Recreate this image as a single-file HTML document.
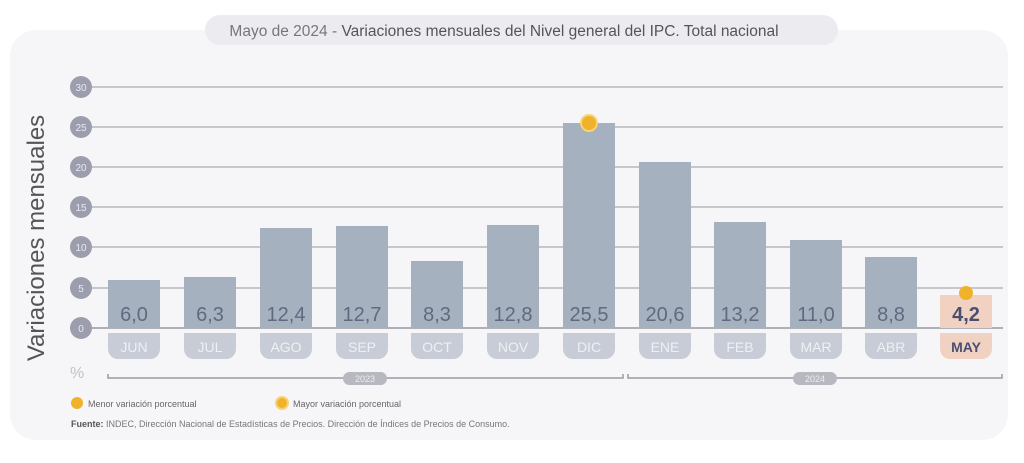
<!DOCTYPE html>
<html><head><meta charset="utf-8"><style>
body{margin:0;width:1024px;height:458px;background:#fff;overflow:hidden;font-family:"Liberation Sans",sans-serif}
</style></head><body>
<svg width="1024" height="458" xmlns="http://www.w3.org/2000/svg" font-family="Liberation Sans, sans-serif">
<rect x="10" y="30" width="998" height="410" rx="26" fill="#f6f6f8"/>
<rect x="205" y="15" width="633" height="30" rx="15" fill="#ececf0"/>
<text x="504" y="36" font-size="15.5" text-anchor="middle" fill="#555"><tspan fill="#777">Mayo de 2024 - </tspan>Variaciones mensuales del Nivel general del IPC. Total nacional</text>
<text transform="translate(44,238) rotate(-90)" font-size="24" text-anchor="middle" fill="#555">Variaciones mensuales</text>
<g stroke="#c6c6cc" stroke-width="2">
<line x1="90" y1="87" x2="1003" y2="87"/><line x1="90" y1="127" x2="1003" y2="127"/><line x1="90" y1="167" x2="1003" y2="167"/><line x1="90" y1="207" x2="1003" y2="207"/><line x1="90" y1="247" x2="1003" y2="247"/><line x1="90" y1="288" x2="1003" y2="288"/><line x1="90" y1="328" x2="1003" y2="328" stroke="#b0b0b8"/>
</g>
<g fill="#9c9eae"><circle cx="81" cy="87" r="11"/><circle cx="81" cy="127" r="11"/><circle cx="81" cy="167" r="11"/><circle cx="81" cy="207" r="11"/><circle cx="81" cy="247" r="11"/><circle cx="81" cy="288" r="11"/><circle cx="81" cy="328" r="11"/></g>
<g fill="#e8e8f0" font-size="10" text-anchor="middle"><text x="81" y="91">30</text><text x="81" y="131">25</text><text x="81" y="171">20</text><text x="81" y="211">15</text><text x="81" y="251">10</text><text x="81" y="292">5</text><text x="81" y="332">0</text></g>
<g fill="#a6b1bf">
<rect x="108" y="280" width="52" height="48"/><rect x="184" y="277" width="52" height="51"/><rect x="260" y="228" width="52" height="100"/><rect x="336" y="226" width="52" height="102"/><rect x="411" y="261" width="52" height="67"/><rect x="487" y="225" width="52" height="103"/><rect x="563" y="123" width="52" height="205"/><rect x="639" y="162" width="52" height="166"/><rect x="714" y="222" width="52" height="106"/><rect x="790" y="240" width="52" height="88"/><rect x="865" y="257" width="52" height="71"/>
</g>
<rect x="940" y="295" width="52" height="33" fill="#f1d2c2"/>
<g fill="#5f6a80" font-size="20" text-anchor="middle">
<text x="134" y="321">6,0</text><text x="210" y="321">6,3</text><text x="286" y="321">12,4</text><text x="362" y="321">12,7</text><text x="437" y="321">8,3</text><text x="513" y="321">12,8</text><text x="589" y="321">25,5</text><text x="665" y="321">20,6</text><text x="740" y="321">13,2</text><text x="816" y="321">11,0</text><text x="891" y="321">8,8</text><text x="966" y="321" font-weight="bold" fill="#4a4f70">4,2</text>
</g>
<g fill="#c8ccd6">
<path d="M108 333h52v16a10 10 0 0 1-10 10h-32a10 10 0 0 1-10-10z"/><path d="M184 333h52v16a10 10 0 0 1-10 10h-32a10 10 0 0 1-10-10z"/><path d="M260 333h52v16a10 10 0 0 1-10 10h-32a10 10 0 0 1-10-10z"/><path d="M336 333h52v16a10 10 0 0 1-10 10h-32a10 10 0 0 1-10-10z"/><path d="M411 333h52v16a10 10 0 0 1-10 10h-32a10 10 0 0 1-10-10z"/><path d="M487 333h52v16a10 10 0 0 1-10 10h-32a10 10 0 0 1-10-10z"/><path d="M563 333h52v16a10 10 0 0 1-10 10h-32a10 10 0 0 1-10-10z"/><path d="M639 333h52v16a10 10 0 0 1-10 10h-32a10 10 0 0 1-10-10z"/><path d="M714 333h52v16a10 10 0 0 1-10 10h-32a10 10 0 0 1-10-10z"/><path d="M790 333h52v16a10 10 0 0 1-10 10h-32a10 10 0 0 1-10-10z"/><path d="M865 333h52v16a10 10 0 0 1-10 10h-32a10 10 0 0 1-10-10z"/>
<path d="M940 333h52v16a10 10 0 0 1-10 10h-32a10 10 0 0 1-10-10z" fill="#f1d2c2"/>
</g>
<g fill="#eef0f4" font-size="14" text-anchor="middle">
<text x="134" y="352">JUN</text><text x="210" y="352">JUL</text><text x="286" y="352">AGO</text><text x="362" y="352">SEP</text><text x="437" y="352">OCT</text><text x="513" y="352">NOV</text><text x="589" y="352">DIC</text><text x="665" y="352">ENE</text><text x="740" y="352">FEB</text><text x="816" y="352">MAR</text><text x="891" y="352">ABR</text><text x="966" y="352" fill="#4a4f70" font-weight="bold">MAY</text>
</g>
<text x="70" y="378" font-size="16" fill="#c0c0c8">%</text>
<g stroke="#9a9aa4" stroke-width="1.5" fill="none"><path d="M108 374v4h515v-4"/><path d="M628 374v4h374v-4"/></g>
<rect x="343" y="372" width="44" height="13" rx="6.5" fill="#b8b8c0"/><text x="365" y="382" font-size="9" fill="#eee" text-anchor="middle">2023</text>
<rect x="793" y="372" width="44" height="13" rx="6.5" fill="#b8b8c0"/><text x="815" y="382" font-size="9" fill="#eee" text-anchor="middle">2024</text>
<circle cx="589" cy="123" r="8" fill="#f0b22a" stroke="#f7d37a" stroke-width="2"/>
<circle cx="966" cy="293" r="7" fill="#f0b22a"/>
<circle cx="77" cy="403" r="6" fill="#f0b22a"/><text x="88" y="407" font-size="9" fill="#666">Menor variación porcentual</text>
<circle cx="282" cy="403" r="6" fill="#f0b22a" stroke="#f7d37a" stroke-width="2"/><text x="293" y="407" font-size="9" fill="#666">Mayor variación porcentual</text>
<text x="71" y="427" font-size="9" fill="#777"><tspan font-weight="bold" fill="#555">Fuente:</tspan> INDEC, Dirección Nacional de Estadísticas de Precios. Dirección de Índices de Precios de Consumo.</text>
</svg>
</body></html>
